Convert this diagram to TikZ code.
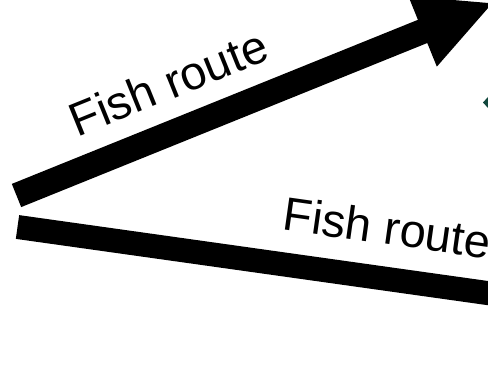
\documentclass[tikz,border=0pt]{standalone}
\usepackage{fontspec}
\setmainfont{Liberation Sans}
\tikzset{
  route/.style={fill=black},
  routelabel/.style={anchor=base west, inner sep=0pt, font=\fontsize{47}{47}\selectfont},
}
\begin{document}
\begin{tikzpicture}[x=1pt,y=1pt]
  \useasboundingbox (0,0) rectangle (488,391);
  \clip (0,0) rectangle (488,391);
  \fill[white] (0,0) rectangle (488,391);
  % upper route: thick arrow rising to the right
  \coordinate (upstart) at (16.5,195.5);
  \begin{scope}[shift={(upstart)}, rotate=22]
    \fill[route] (0,-12.5) -- (438,-12.5) -- (438,-38) -- (513,0)
      -- (438,38) -- (438,12.5) -- (0,12.5) -- cycle;
  \end{scope}
  % lower route: thick bar falling gently to the right
  \coordinate (lowstart) at (17.5,164);
  \begin{scope}[shift={(lowstart)}, rotate=-8]
    \fill[route] (0,-12) rectangle (560,12);
  \end{scope}
  % labels
  \node[routelabel, rotate=22] (uplabel) at (77.5,253.5) {Fish route};
  \node[routelabel, rotate=-8] (lowlabel) at (281.5,161.4) {Fish route};
  % small teal tip at the right edge
  \definecolor{tealtip}{RGB}{18,72,62}
  \fill[tealtip] (483,288.5) -- (488,294) -- (492,288.5) -- (488,283) -- cycle;
\end{tikzpicture}
\end{document}
